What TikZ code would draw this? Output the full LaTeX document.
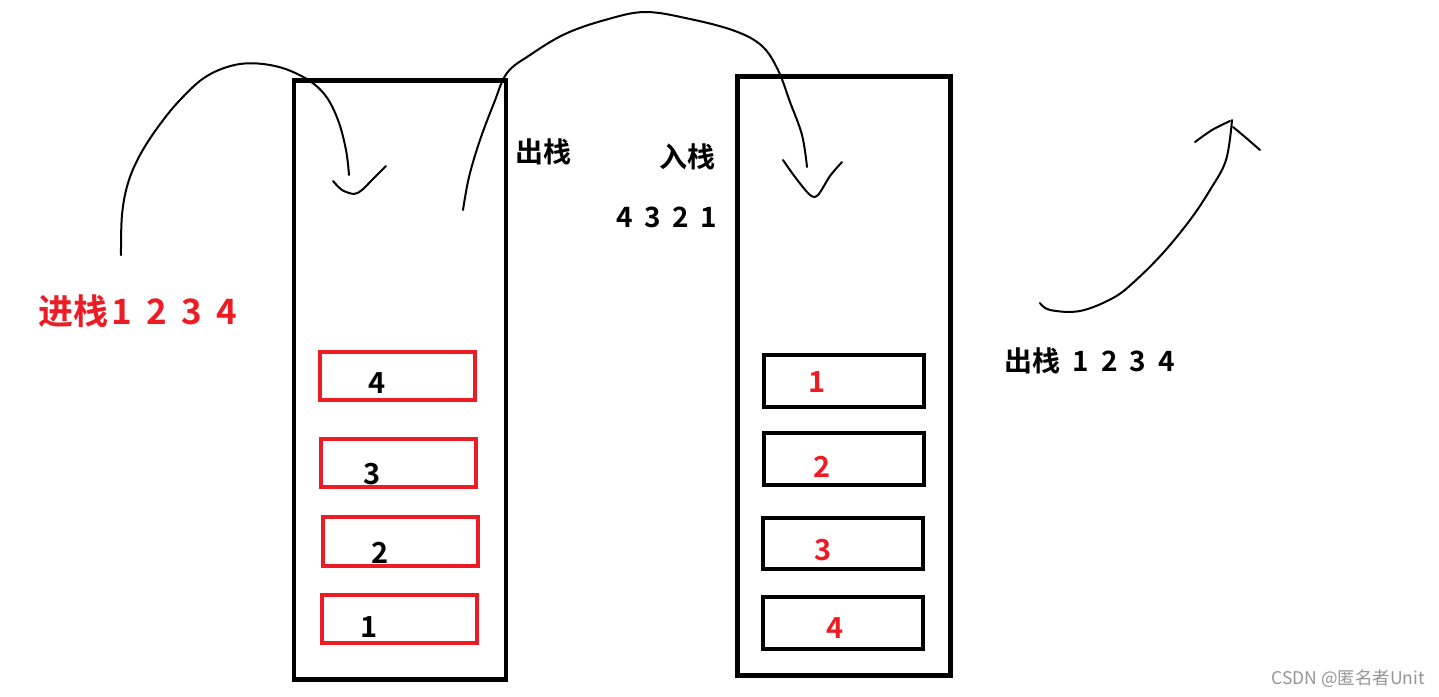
\documentclass[tikz,border=0pt]{standalone}
\usepackage{fontspec}
\newfontfamily\cjk{Noto Sans CJK SC}[BoldFont={Noto Sans CJK SC Bold}]
\definecolor{pred}{RGB}{237,28,36}
\definecolor{wmgray}{RGB}{150,150,150}
\newcommand{\gp}[1]{\hspace{#1}}
\tikzset{
  stackbox/.style={draw=black, line width=4.5pt, minimum width=#1, minimum height=599pt, inner sep=0pt},
  redcell/.style={draw=pred, line width=4pt, minimum width=155pt, minimum height=48pt, inner sep=0pt},
  blackcell/.style={draw=black, line width=4.5pt, minimum width=160pt, minimum height=52pt, inner sep=0pt},
  numtxt/.style={font=\cjk\bfseries\fontsize{29}{34}\selectfont, inner sep=0pt},
  bigred/.style={font=\cjk\bfseries\fontsize{35}{40}\selectfont, text=pred, inner sep=0pt},
  lbl/.style={font=\cjk\bfseries\fontsize{28}{33}\selectfont, inner sep=0pt},
  pen/.style={line width=2pt, line cap=round, line join=round}
}
\begin{document}
\begin{tikzpicture}[x=1pt, y=-1pt]
\useasboundingbox[fill=white] (0,0) rectangle (1439,696);
% stacks
\node[stackbox=212pt] (lstack) at (400,379.75) {};
\node[stackbox=213pt] (rstack) at (844,376) {};
% left cells
\node[redcell] (l4) at (397.5,376) {};
\node[redcell] (l3) at (398.5,463) {};
\node[redcell, minimum height=49pt] (l2) at (400.5,541.5) {};
\node[redcell] (l1) at (399.5,619) {};
\node[numtxt] (n4) at (377,383) {4};
\node[numtxt] (n3) at (372,474) {3};
\node[numtxt] (n2) at (380,553) {2};
\node[numtxt] (n1) at (369,627) {1};
% right cells
\node[blackcell] (r1) at (844,381) {};
\node[blackcell] (r2) at (844,459) {};
\node[blackcell, minimum height=51pt] (r3) at (843,543.5) {};
\node[blackcell] (r4) at (843,623) {};
\node[numtxt, text=pred] (m1) at (817,382) {1};
\node[numtxt, text=pred] (m2) at (822,467) {2};
\node[numtxt, text=pred] (m3) at (823,550) {3};
\node[numtxt, text=pred] (m4) at (835,628) {4};
% labels
\node[bigred, anchor=west] (push) at (38,311) {进栈\gp{3pt}1\gp{14.5pt}2\gp{14.5pt}3\gp{14.5pt}4};
\node[lbl] (out1) at (543,152) {出栈};
\node[lbl] (in1) at (687,157) {入栈};
\node[lbl] (seq) at (667,217) {4\gp{11.5pt}3\gp{11.5pt}2\gp{11.5pt}1};
\node[lbl] (out2) at (1090,361) {出栈\gp{12pt}1\gp{12pt}2\gp{12pt}3\gp{12pt}4};
\node[font=\cjk\fontsize{17.5}{20}\selectfont, text=wmgray, anchor=east, inner sep=0pt] (wm) at (1425,679) {CSDN @匿名者Unit};
% hand-drawn curves
\draw[pen] plot[smooth, tension=0.6] coordinates {(121,255) (122,215) (128,183) (140,155) (158,127) (180,100) (207,76) (240,64) (275,66) (305,78) (325,95) (338,120) (346,150) (349,175)};
\draw[pen] plot[smooth, tension=0.5] coordinates {(333,181) (342,190) (354,194) (362,190) (372,180) (386,166)};
\draw[pen] plot[smooth, tension=0.6] coordinates {(463,210) (469,177) (480,140) (494,103) (507,73) (530,55) (565,34) (605,20) (645,12) (690,19) (735,31) (762,46) (778,70) (790,102) (802,135) (807,167)};
\draw[pen] plot[smooth, tension=0.5] coordinates {(783,160) (795,177) (810,195) (818,195) (830,176) (842,162)};
\draw[pen] plot[smooth, tension=0.6] coordinates {(1040,303) (1050,310) (1080,311) (1113,298) (1135,281) (1163,253) (1190,220) (1210,190) (1226,160) (1232,120)};
\draw[pen] plot[smooth, tension=0.5] coordinates {(1195,142) (1212,130) (1230,121)};
\draw[pen] plot[smooth, tension=0.5] coordinates {(1233,127) (1245,137) (1260,150)};
\end{tikzpicture}
\end{document}
